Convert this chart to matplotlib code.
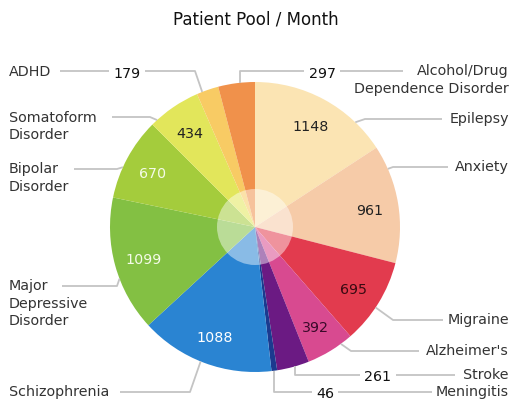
import numpy as np
import matplotlib
matplotlib.use("Agg")
import matplotlib.pyplot as plt
from matplotlib.patches import Circle

# ---------------- data ----------------
title = "Patient Pool / Month"
categories = ["Epilepsy", "Anxiety", "Migraine", "Alzheimer's", "Stroke", "Meningitis",
              "Schizophrenia", "Major\nDepressive\nDisorder", "Bipolar\nDisorder",
              "Somatoform\nDisorder", "ADHD", "Alcohol/Drug\nDependence Disorder"]
values = [1148, 961, 695, 392, 261, 46, 1088, 1099, 670, 434, 179, 297]

# ---------------- style ----------------
colors = ["#FBE4B3", "#F6CBA8", "#E23B4E", "#D84A90", "#6B1A83", "#1B3A8F",
          "#2A84D2", "#83C043", "#A4CC3C", "#E2E65B", "#F8CB64", "#F0914B"]
value_colors = ["#222222", "#222222", "#3a0a12", "#3a0a2a", "#222222", "#222222",
                "#ffffff", "#f4fbe8", "#f4fbe8", "#222222", "#222222", "#222222"]
LINE_C = "#C4C4C4"
TXT_C = "#333333"
FS = 10.3

W, H = 512, 402
CX, CY, R = 255, 228, 145

# layout for each label: side, y of label line, knee x (None -> anchor x),
# line end/start x, anchor position within slice (fraction), value x on the line (None -> inside)
layout = [
    dict(side="R", y=120, knee=365, lx=442, af=0.77, vx=None),   # Epilepsy
    dict(side="R", y=168, knee=393, lx=448, af=0.20, vx=None),   # Anxiety
    dict(side="R", y=321, knee=393, lx=443, af=0.56, vx=None),   # Migraine
    dict(side="R", y=352, knee=351, lx=419, af=0.25, vx=None),   # Alzheimer's
    dict(side="R", y=376, knee=None, lx=455, af=0.43, vx=378),   # Stroke
    dict(side="R", y=393, knee=None, lx=432, af=0.50, vx=325),   # Meningitis
    dict(side="L", y=393, knee=190, lx=120, af=0.53, vx=None),   # Schizophrenia
    dict(side="L", y=287, knee=117, lx=62, af=0.40, vx=None),    # Major Depressive
    dict(side="L", y=170, knee=117, lx=74, af=0.38, vx=None),    # Bipolar
    dict(side="L", y=118, knee=150, lx=112, af=0.12, vx=None),   # Somatoform
    dict(side="L", y=72, knee=195, lx=60, af=0.25, vx=127),      # ADHD
    dict(side="R", y=72, knee=None, lx=403, af=0.60, vx=322),    # Alcohol/Drug
]

fig = plt.figure(figsize=(W / 100, H / 100), dpi=100)
ax = fig.add_axes([0, 0, 1, 1])

wedges, _ = ax.pie(values, colors=colors, startangle=-90, counterclock=True,
                   center=(CX, CY), radius=R, wedgeprops=dict(linewidth=0))
ax.set_xlim(0, W)
ax.set_ylim(H, 0)
ax.set_aspect("equal")
ax.axis("off")

ax.add_patch(Circle((CX, CY), 38, facecolor="white", alpha=0.45, edgecolor="none", zorder=3))

vals = np.array(values, dtype=float)
cum = np.concatenate([[0], np.cumsum(vals)]) / vals.sum() * 360.0


def pt(ang_deg, r):
    a = np.radians(ang_deg)
    return CX + r * np.sin(a), CY - r * np.cos(a)


ax.text(W / 2, 19, title, ha="center", va="center", fontsize=12, color="#111111")

for i, (cat, v) in enumerate(zip(categories, values)):
    L = layout[i]
    a0, a1 = cum[i], cum[i + 1]
    mid = (a0 + a1) / 2
    ang = a0 + L["af"] * (a1 - a0)
    axp, ayp = pt(ang, R)
    kx = axp if L["knee"] is None else L["knee"]
    y = L["y"]
    if L["side"] == "L":
        xs = [L["lx"], kx, axp]
        ys = [y, y, ayp]
        ax.text(9, y - 7.5, cat, ha="left", va="top", fontsize=FS, color=TXT_C,
                linespacing=1.3)
    else:
        xs = [axp, kx, L["lx"]]
        ys = [ayp, y, y]
        ax.text(509, y - 7.5, cat, ha="right", va="top", fontsize=FS, color=TXT_C,
                linespacing=1.3, multialignment="right")
    ax.plot(xs, ys, color=LINE_C, lw=1.3, solid_capstyle="butt", zorder=1)

    if L["vx"] is None:
        tx, ty = pt(mid, 0.80 * R)
        ax.text(tx, ty + 1.5, str(v), ha="center", va="center", fontsize=FS,
                color=value_colors[i], zorder=5)
    else:
        ax.text(L["vx"], y + 1.5, str(v), ha="center", va="center", fontsize=FS,
                color="#111111", zorder=5,
                bbox=dict(boxstyle="square,pad=0.3", fc="white", ec="none"))

fig.savefig("out.png", dpi=100, facecolor="white")
